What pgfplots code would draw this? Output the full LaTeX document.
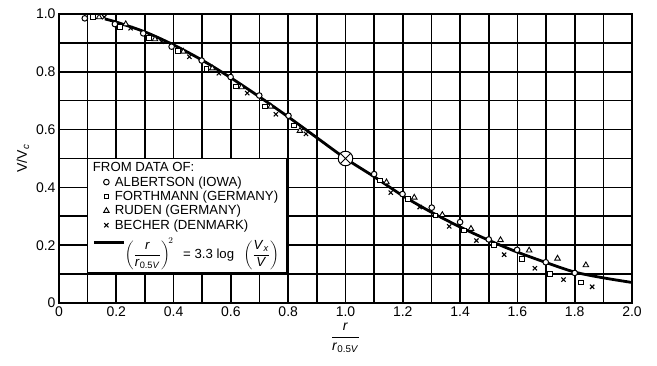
\documentclass[border=0pt]{standalone}
\usepackage{fontspec}
\setmainfont{Liberation Sans}
\usepackage{amsmath}
\usepackage{pgfplots}
\pgfplotsset{compat=1.18}

\pgfplotstableread{
x y
0.16 0.983
0.2 0.972
0.3 0.938
0.4 0.893
0.5 0.840
0.6 0.779
0.7 0.713
0.8 0.644
0.9 0.572
1.0 0.500
1.1 0.437
1.2 0.371
1.3 0.314
1.4 0.263
1.5 0.217
1.6 0.176
1.7 0.140
1.8 0.107
1.9 0.087
2.0 0.071
}\curve

\pgfplotstableread{
x y
0.09 0.985
0.195 0.965
0.294 0.933
0.393 0.887
0.498 0.839
0.599 0.782
0.699 0.718
0.801 0.648
1.1 0.446
1.199 0.377
1.301 0.330
1.4 0.280
1.5 0.220
1.599 0.184
1.699 0.141
1.8 0.104
}\albertson

\pgfplotstableread{
x y
0.118 0.989
0.213 0.956
0.314 0.916
0.414 0.873
0.515 0.810
0.618 0.749
0.719 0.680
0.82 0.614
1.12 0.424
1.217 0.360
1.314 0.303
1.414 0.251
1.519 0.200
1.617 0.152
1.713 0.101
1.821 0.071
}\forthmann

\pgfplotstableread{
x y
0.14 0.989
0.233 0.965
0.335 0.913
0.434 0.870
0.535 0.812
0.637 0.747
0.739 0.680
0.841 0.596
1.143 0.418
1.24 0.365
1.338 0.305
1.438 0.257
1.541 0.218
1.641 0.182
1.74 0.154
1.839 0.131
}\ruden

\pgfplotstableread{
x y
0.158 0.989
0.25 0.951
0.358 0.904
0.455 0.852
0.558 0.795
0.657 0.726
0.757 0.653
0.862 0.585
1.158 0.382
1.259 0.332
1.362 0.265
1.457 0.216
1.554 0.167
1.661 0.120
1.761 0.081
1.861 0.056
}\becher

\begin{document}
\begin{tikzpicture}
\useasboundingbox (-59pt,-63pt) rectangle (598pt,303pt);
\begin{axis}[
  scale only axis, width=573pt, height=289pt,
  xmin=0, xmax=2, ymin=0, ymax=1,
  xtick={0,0.2,0.4,0.6,0.8,1,1.2,1.4,1.6,1.8,2},
  xticklabels={0,0.2,0.4,0.6,0.8,1.0,1.2,1.4,1.6,1.8,2.0},
  minor xtick={0.1,0.3,0.5,0.7,0.9,1.1,1.3,1.5,1.7,1.9},
  ytick={0,0.2,0.4,0.6,0.8,1},
  yticklabels={0,0.2,0.4,0.6,0.8,1.0},
  minor ytick={0.1,0.3,0.5,0.7,0.9},
  grid=both,
  major grid style={line width=1.6pt, black},
  minor grid style={line width=1.6pt, black},
  axis line style={line width=2.4pt},
  tick style={draw=none},
  /pgf/number format/assume math mode=true,
  ticklabel style={font=\fontsize{14}{16}\selectfont},
  label style={font=\fontsize{14}{16}\selectfont},
  xlabel={$\dfrac{\text{\textit{r}}}{\text{\textit{r}\textsubscript{0.5\textit{V}}}}$},
  ylabel={V/V\textsubscript{\textit{c}}},
  legend style={at={(0.048,0.104)}, anchor=south west, draw=black, line width=0.8pt,
    fill=white, font=\fontsize{13.2}{14}\selectfont, cells={anchor=west},
    row sep=-0.7pt, inner sep=2pt},
  mark legend/.style={legend image code/.code={\path[draw=none] (0pt,0pt) -- (24pt,0pt);\draw[##1] plot coordinates {(17.5pt,0pt)};}},
]
\addplot[line width=2.8pt, smooth, forget plot] table {\curve};
\addlegendimage{empty legend}
\addlegendentry{\hspace*{-22pt}FROM DATA OF:}
\addplot[only marks, mark=*, mark size=2.8pt, line width=1pt, mark options={fill=white}, mark legend] table {\albertson};
\addlegendentry{ALBERTSON (IOWA)}
\addplot[only marks, mark=square*, mark size=2.4pt, line width=1pt, mark options={fill=white}, mark legend] table {\forthmann};
\addlegendentry{FORTHMANN (GERMANY)}
\addplot[only marks, mark=triangle*, mark size=3.2pt, line width=0.9pt, mark options={fill=white}, mark legend] table {\ruden};
\addlegendentry{RUDEN (GERMANY)}
\addplot[only marks, mark=x, mark size=3pt, line width=1.1pt, mark legend] table {\becher};
\addlegendentry{BECHER (DENMARK)}
\addplot[only marks, mark=otimes*, mark size=7.3pt, line width=1pt, mark options={fill=white}, forget plot] coordinates {(1.0,0.5)};
\addlegendimage{legend image code/.code={\draw[overlay, line width=2.8pt] (5pt,9pt) -- (35pt,9pt);}}
\addlegendentry{\hspace*{10pt}\rule[-28pt]{0pt}{61pt}\raisebox{9pt}[24pt][0pt]{$\left(\dfrac{\text{\textit{r}}}{\text{\textit{r}\textsubscript{0.5\textit{V}}}}\right)^{\!2}$\;\, = 3.3 log\;\, $\left(\dfrac{\text{\textit{V}\textsubscript{\textit{x}}}}{\text{\textit{V}}}\right)$}\hspace*{3pt}}
\end{axis}
\end{tikzpicture}
\end{document}
